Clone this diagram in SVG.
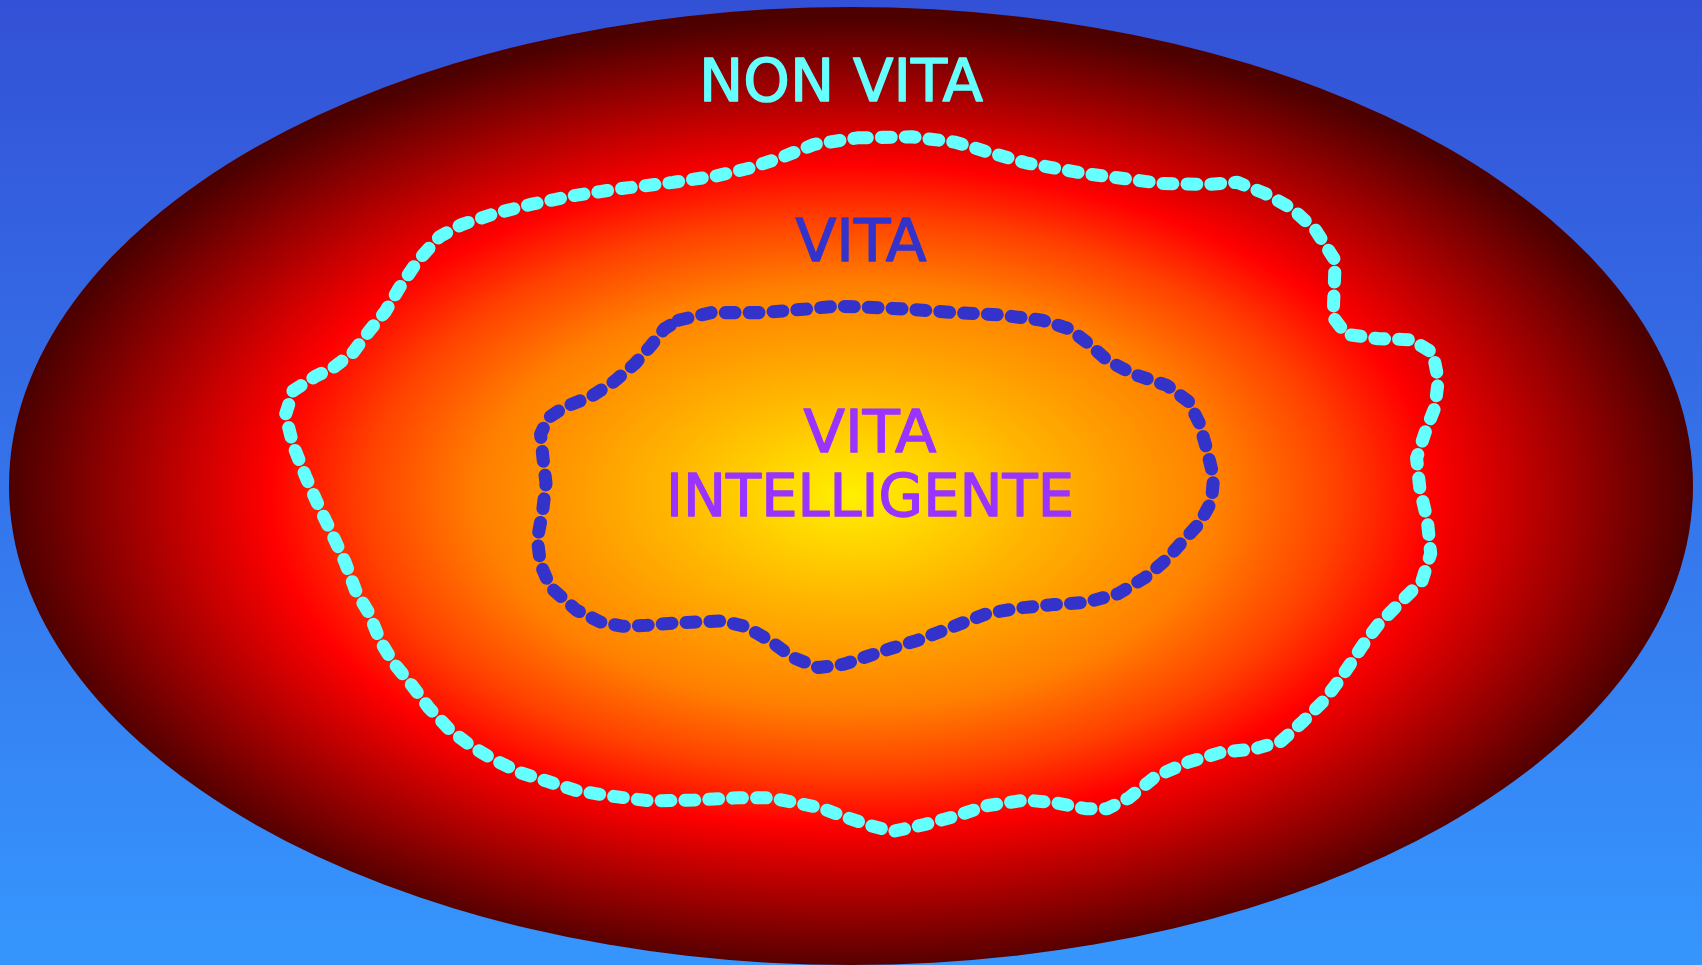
<svg xmlns="http://www.w3.org/2000/svg" width="1702" height="965" viewBox="0 0 1702 965">
<defs>
<linearGradient id="bg" x1="0" y1="0" x2="0" y2="1">
<stop offset="0" stop-color="#3351D6"/>
<stop offset="1" stop-color="#3696FE"/>
</linearGradient>
<radialGradient id="glow" cx="0.5" cy="0.51" r="0.5">
<stop offset="0" stop-color="#FFF000"/>
<stop offset="0.23" stop-color="#FFB300"/>
<stop offset="0.44" stop-color="#FF8000"/>
<stop offset="0.58" stop-color="#FF4000"/>
<stop offset="0.69" stop-color="#FF0000"/>
<stop offset="1" stop-color="#4C0000"/>
</radialGradient>
<style>
.lbl{font-family:"DejaVu Sans","Liberation Sans",sans-serif;font-size:59px;text-anchor:middle;stroke-width:1.4;stroke-linejoin:round;stroke-linecap:round;}
.bd{fill:none;stroke-width:12;stroke-linecap:round;stroke-linejoin:round;stroke-dasharray:9 13;}
</style>
</defs>
<rect width="1702" height="965" fill="url(#bg)"/>
<g id="nonvita">
<ellipse cx="851" cy="486" rx="842" ry="479" fill="url(#glow)"/>
<text class="lbl" x="841" y="101" fill="#66FFFF" stroke="#66FFFF" textLength="284" lengthAdjust="spacingAndGlyphs">NON VITA</text>
</g>
<g id="connectors" transform="scale(1.0855)">
<path id="vita-boundary" class="bd" stroke="#66FFFF" d="M790,127 L840,126 L880,131 L910,140 L945,150 L1000,160 L1070,169 L1110,170 L1140,168 L1165,178 L1190,192 L1212,212 L1230,240 L1229,268 L1228,292 L1240,308 L1270,312 L1300,313 L1320,325 L1325,350 L1322,375 L1313,398 L1305,422 L1308,450 L1315,480 L1318,510 L1310,535 L1290,555 L1270,575 L1255,595 L1235,625 L1220,645 L1200,665 L1180,683 L1155,690 L1125,693 L1095,702 L1065,715 L1040,735 L1020,745 L1000,745 L975,740 L945,737 L910,742 L880,752 L850,760 L822,766 L800,760 L777,752 L755,744 L735,740 L710,735 L680,735 L640,737 L600,738 L560,733 L530,728 L505,720 L480,712 L455,700 L435,688 L415,673 L395,652 L380,632 L362,610 L350,590 L340,565 L328,545 L318,518 L305,490 L293,465 L282,440 L270,410 L263,382 L270,360 L290,347 L308,338 L325,325 L340,305 L355,287 L368,265 L385,240 L405,218 L425,207 L455,197 L490,188 L530,180 L570,174 L620,168 L660,162 L690,155 L720,145 L750,133 Z"/>
<path id="intelligente-boundary" class="bd" stroke="#3333CC" d="M625,295 L655,288 L700,288 L740,285 L770,282 L800,283 L840,285 L880,288 L920,290 L960,295 L985,303 L1002,316 L1020,332 L1045,345 L1075,355 L1095,370 L1105,390 L1112,415 L1118,440 L1116,462 L1105,482 L1090,498 L1075,515 L1055,532 L1030,547 L1000,555 L970,557 L940,560 L910,565 L889,573 L866,582 L845,590 L822,597 L798,605 L777,612 L754,615 L731,606 L709,590 L686,577 L665,572 L642,573 L620,574 L596,576 L574,577 L553,573 L531,562 L507,541 L498,520 L495,497 L500,470 L503,445 L500,420 L498,400 L505,385 L520,375 L545,365 L565,352 L585,335 L600,318 L612,303 Z"/>
</g>
<g id="vita">
<text class="lbl" x="861" y="261" fill="#3333CC" stroke="#3333CC" textLength="131" lengthAdjust="spacingAndGlyphs">VITA</text>
</g>
<g id="vita-intelligente">
<text class="lbl" x="870" y="452" fill="#9933FF" stroke="#9933FF" textLength="133" lengthAdjust="spacingAndGlyphs">VITA</text>
<text class="lbl" x="870" y="516" fill="#9933FF" stroke="#9933FF" textLength="408" lengthAdjust="spacingAndGlyphs">INTELLIGENTE</text>
</g>
</svg>
